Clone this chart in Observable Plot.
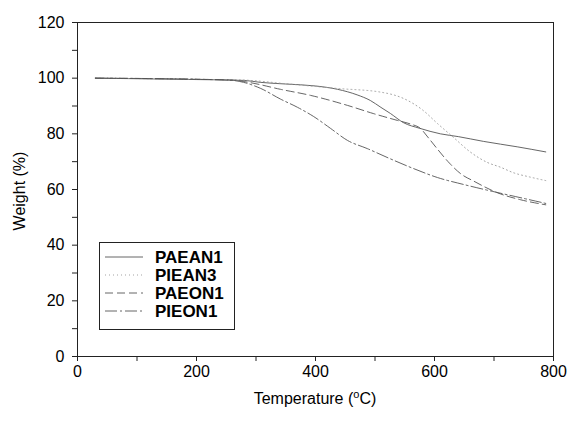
<!DOCTYPE html>
<html><head><meta charset="utf-8">
<script src="https://cdn.jsdelivr.net/npm/d3@7"></script>
<script src="https://cdn.jsdelivr.net/npm/@observablehq/plot@0.6"></script>
<style>body{margin:0;background:#fff}#chart{width:568px;height:421px}</style>
</head><body><div id="chart"></div>
<script>
const seriesNames = ["PAEAN1", "PIEAN3", "PAEON1", "PIEON1"];

const paean1Temp = [30, 100, 200, 280, 307, 350, 400, 437, 470, 492, 510, 526, 548, 575, 610, 640, 682, 740, 787];
const paean1Wt   = [100, 99.8, 99.5, 99.2, 98.5, 97.9, 97.2, 96, 94, 92, 89.5, 87.3, 84, 82, 80, 79, 77.3, 75.3, 73.5];

const piean3Temp = [30, 200, 280, 350, 437, 509, 548, 581, 605, 632, 660, 689, 711, 733, 760, 787];
const piean3Wt   = [100, 99.6, 99.3, 98, 96.3, 95, 92.7, 88.4, 83.7, 78.7, 73.5, 69.7, 68, 66, 64.5, 63.2];

const paeon1Temp = [30, 200, 260, 290, 341, 392, 454, 497, 538, 560, 576, 590, 605, 625, 645, 666, 706, 745, 787];
const paeon1Wt   = [100, 99.6, 99.3, 98.4, 96, 93.8, 90.2, 87.3, 84.8, 83.5, 82, 78.5, 74.5, 69.5, 65.5, 63, 58.8, 56.3, 54.5];

const pieon1Temp = [30, 200, 260, 279, 308, 341, 370, 397, 425, 454, 487, 526, 565, 605, 649, 700, 750, 787];
const pieon1Wt   = [100, 99.6, 99.2, 98.5, 96.3, 92.5, 89.5, 86.2, 82, 77.6, 74.7, 71, 67.5, 64.3, 61.8, 59.2, 56.8, 55];

const xTicks = [0, 100, 200, 300, 400, 500, 600, 700, 800];
const yTicks = [0, 10, 20, 30, 40, 50, 60, 70, 80, 90, 100, 110, 120];

const styles = {
  PAEAN1: {stroke: "#555", dash: null},
  PIEAN3: {stroke: "#999", dash: "1,3"},
  PAEON1: {stroke: "#555", dash: "8,4"},
  PIEON1: {stroke: "#555", dash: "12,3,2,3"}
};

const temps = [paean1Temp, piean3Temp, paeon1Temp, pieon1Temp];
const wts = [paean1Wt, piean3Wt, paeon1Wt, pieon1Wt];
const rows = seriesNames.map((name, i) => temps[i].map((t, j) => ({name, t, w: wts[i][j]})));

const marks = [
  Plot.frame({stroke: "#222"}),
  Plot.axisX({ticks: xTicks, tickFormat: d => d % 200 === 0 ? d : "", tickSize: 5, tickPadding: 4, label: null, stroke: "#222"}),
  Plot.axisY({ticks: yTicks, tickFormat: d => d % 20 === 0 ? d : "", tickSize: 5, tickPadding: 8, label: null, stroke: "#222"})
];
rows.forEach(r => {
  const s = styles[r[0].name];
  marks.push(Plot.line(r, {x: "t", y: "w", stroke: s.stroke, strokeWidth: 0.9, strokeDasharray: s.dash, curve: "monotone-x"}));
});

const plot = Plot.plot({
  width: 568, height: 421,
  marginLeft: 77, marginRight: 15, marginTop: 22, marginBottom: 65,
  x: {domain: [0, 800]},
  y: {domain: [0, 120]},
  style: {fontSize: "16px", fontFamily: "'Liberation Sans', Arial, sans-serif", color: "#000", background: "#fff", overflow: "visible"},
  marks
});
document.getElementById("chart").appendChild(plot);

const svg = d3.select(plot);
const xt = svg.append("text").attr("x", 315).attr("y", 404).attr("text-anchor", "middle")
  .attr("font-size", 16).attr("fill", "#000");
xt.append("tspan").text("Temperature (");
xt.append("tspan").text("o").attr("font-size", 11).attr("dy", -6);
xt.append("tspan").text("C)").attr("dy", 6);

svg.append("text").attr("transform", "translate(25,191) rotate(-90)").attr("text-anchor", "middle")
  .attr("font-size", 16).attr("fill", "#000").text("Weight (%)");

const lg = svg.append("g");
lg.append("rect").attr("x", 99.5).attr("y", 242.5).attr("width", 135).attr("height", 87)
  .attr("fill", "#fff").attr("stroke", "#222");
seriesNames.forEach((name, i) => {
  const y = 257 + i * 18;
  const s = styles[name];
  lg.append("line").attr("x1", 105).attr("x2", 143).attr("y1", y).attr("y2", y)
    .attr("stroke", s.stroke).attr("stroke-width", 0.9).attr("stroke-dasharray", s.dash);
  lg.append("text").attr("x", 155).attr("y", y + 6).attr("text-anchor", "start")
    .attr("font-size", 17).attr("font-weight", "bold").attr("fill", "#000").text(name);
});
</script></body></html>
